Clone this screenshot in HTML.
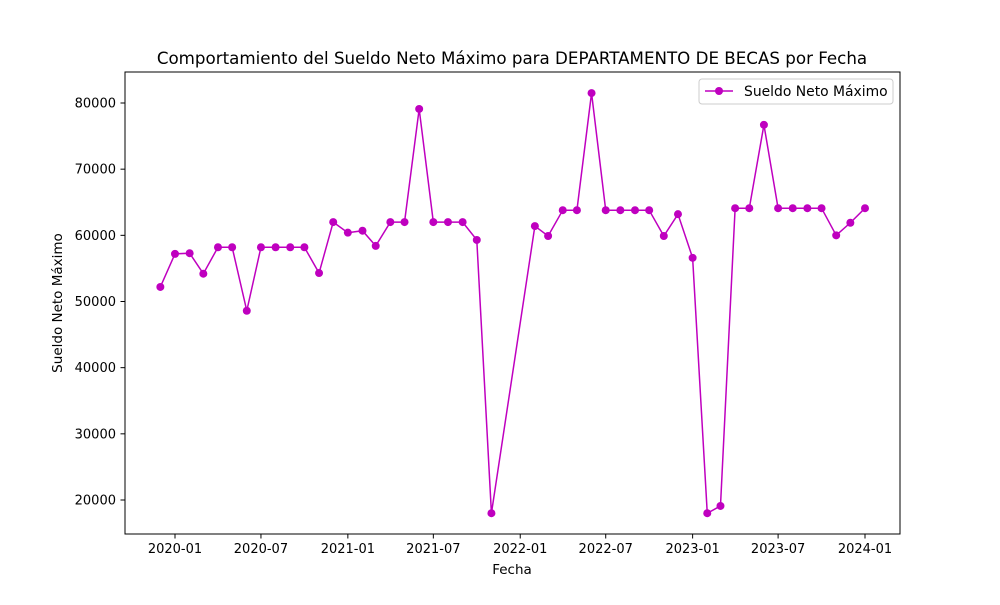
<!DOCTYPE html>
<html><head><meta charset="utf-8"><style>
body{margin:0;background:#fff;}
svg text{font-family:"DejaVu Sans","Liberation Sans",sans-serif;fill:#000;}
</style></head><body>
<svg id="chart" width="1000" height="600" xmlns="http://www.w3.org/2000/svg">
<rect width="1000" height="600" fill="#fff"/>
<text x="512" y="64" font-size="16.7" text-anchor="middle">Comportamiento del Sueldo Neto Máximo para DEPARTAMENTO DE BECAS por Fecha</text>
<g id="axes"></g>
<g id="series"></g>
<rect x="125" y="72" width="775" height="462" fill="none" stroke="#000" stroke-width="1"/>
<text x="512" y="574" font-size="13.5" text-anchor="middle">Fecha</text>
<text transform="translate(62,303) rotate(-90)" font-size="13.5" text-anchor="middle">Sueldo Neto Máximo</text>
<g>
<rect x="699" y="79" width="194" height="25" fill="#fff" stroke="#ccc" rx="3"/>
<line x1="705" y1="91" x2="733" y2="91" stroke="#bf00bf" stroke-width="1.5"/>
<circle cx="719" cy="91" r="4" fill="#bf00bf"/>
<text x="744" y="96" font-size="13.9">Sueldo Neto Máximo</text>
</g>
</svg>
<script>
const dates = ["2019-12","2020-01","2020-02","2020-03","2020-04","2020-05","2020-06","2020-07","2020-08","2020-09","2020-10","2020-11","2020-12","2021-01","2021-02","2021-03","2021-04","2021-05","2021-06","2021-07","2021-08","2021-09","2021-10","2021-11","2022-02","2022-03","2022-04","2022-05","2022-06","2022-07","2022-08","2022-09","2022-10","2022-11","2022-12","2023-01","2023-02","2023-03","2023-04","2023-05","2023-06","2023-07","2023-08","2023-09","2023-10","2023-11","2023-12","2024-01"];
const values = [52200,57200,57300,54200,58200,58200,48600,58200,58200,58200,58200,54300,62000,60400,60700,58400,62000,62000,79100,62000,62000,62000,59300,18000,61400,59900,63800,63800,81500,63800,63800,63800,63800,59900,63200,56600,18000,19100,64100,64100,76700,64100,64100,64100,64100,60000,61900,64100];
const xTicks = ["2020-01","2020-07","2021-01","2021-07","2022-01","2022-07","2023-01","2023-07","2024-01"];
const yTicks = [20000,30000,40000,50000,60000,70000,80000];

const NS="http://www.w3.org/2000/svg";
function toDays(s){const [y,m]=s.split("-").map(Number);return Date.UTC(y,m-1,1)/86400000;}
const d0=toDays("2020-01"), d1=toDays("2024-01");
function xs(s){return 175+(toDays(s)-d0)*(865-175)/(d1-d0);}
function ys(v){return 500-(v-20000)*(500-103)/60000;}
function mk(tag,attrs,parent){const e=document.createElementNS(NS,tag);for(const k in attrs)e.setAttribute(k,attrs[k]);parent.appendChild(e);return e;}
const axes=document.getElementById("axes");
xTicks.forEach(t=>{
  const x=xs(t);
  const l=mk("line",{x1:x,x2:x,y1:534,y2:538.5,stroke:"#000"},axes);
  
  
  const tx=mk("text",{x:x,y:553,"font-size":13,"text-anchor":"middle"},axes);
  tx.textContent=t;
  
  
});
yTicks.forEach(v=>{
  const y=ys(v);
  const l=mk("line",{x1:120.5,x2:125,y1:y,y2:y,stroke:"#000"},axes);
  
  
  const tx=mk("text",{x:116,y:y+4.5,"font-size":13,"text-anchor":"end"},axes);
  tx.textContent=v;
  
  
});
const g=document.getElementById("series");
const pts=dates.map((d,i)=>xs(d)+","+ys(values[i])).join(" ");
const pl=mk("polyline",{points:pts,fill:"none",stroke:"#bf00bf","stroke-width":1.5},g);


dates.forEach((d,i)=>{
  const c=mk("circle",{cx:xs(d),cy:ys(values[i]),r:4,fill:"#bf00bf"},g);
  
  
});
</script>
</body></html>
